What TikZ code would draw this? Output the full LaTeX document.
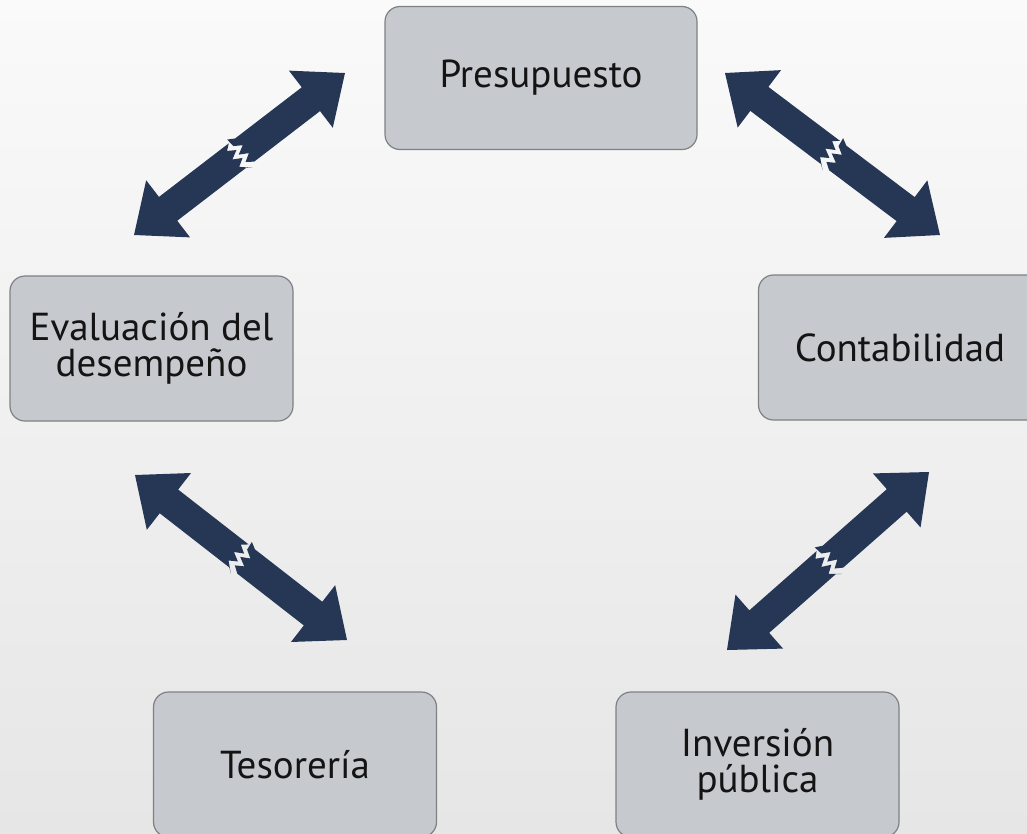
\documentclass[tikz,border=0pt]{standalone}
\usepackage{fontspec}
\setmainfont{PT Sans}
\usetikzlibrary{calc}
\definecolor{fondoa}{HTML}{FAFAFA}
\definecolor{fondob}{HTML}{E6E6E6}
\definecolor{caja}{HTML}{C6C9CE}
\definecolor{borde}{HTML}{7E8184}
\definecolor{marino}{HTML}{263655}
\tikzset{
  modulo/.style={draw=borde, fill=caja, line width=1.2pt, rounded corners=15pt,
    minimum width=283pt, minimum height=145pt, align=center, text=black!92,
    font=\fontsize{39}{36}\selectfont},
  flecha/.style={fill=marino}
}
% flecha doble con ruptura en el centro
\newcommand{\flecharota}[2]{%
  \fill[flecha] let \p1=(#1), \p2=(#2),
    \n1={atan2(\y2-\y1,\x2-\x1)}, \n2={veclen(\x2-\x1,\y2-\y1)/2} in
    [shift={(\p1)}, rotate=\n1]
    % mitad inicial
    (0,0) -- (43,36) -- (43,15) -- ({\n2-3},15) -- ({\n2+2},19)
    -- ({\n2-8},10) -- ({\n2+0},5) -- ({\n2-9},0) -- ({\n2+0},-5)
    -- ({\n2-8},-10) -- ({\n2-2},-15) -- (43,-15) -- (43,-36) -- cycle
    % mitad final
    ({2*\n2},0) -- ({2*\n2-43},36) -- ({2*\n2-43},15) -- ({\n2+7},15)
    -- ({\n2+0},10) -- ({\n2+8},5) -- ({\n2-1},0) -- ({\n2+8},-5)
    -- ({\n2+0},-10) -- ({\n2-1},-19) -- ({\n2+6},-15) -- ({2*\n2-43},-15)
    -- ({2*\n2-43},-36) -- cycle;
}
\begin{document}
\begin{tikzpicture}[x=1pt, y=-1pt]
  \useasboundingbox (0,0) rectangle (1027,833);
  \shade[top color=fondoa, bottom color=fondob] (0,0) rectangle (1027,833);
  % --- modulos ---
  \node[modulo, minimum width=312pt, minimum height=143pt] (pres) at (541,78) {Presupuesto};
  \node[modulo] (eval) at (151.5,348.5) {Evaluación del\\desempeño};
  \node[modulo] (cont) at (900,347.5) {Contabilidad};
  \node[modulo] (teso) at (295,764.5) {Tesorería};
  \node[modulo] (inv) at (757.5,764.5) {Inversión\\pública};
  % --- extremos de las flechas ---
  \coordinate (ep) at (134,235);  \coordinate (pe) at (345,73);
  \coordinate (pc) at (725,73);   \coordinate (cp) at (940,235);
  \coordinate (et) at (135,475);  \coordinate (te) at (347,640);
  \coordinate (ic) at (727,650);  \coordinate (ci) at (929,472);
  \flecharota{ep}{pe}
  \flecharota{pc}{cp}
  \flecharota{et}{te}
  \flecharota{ic}{ci}
\end{tikzpicture}
\end{document}
